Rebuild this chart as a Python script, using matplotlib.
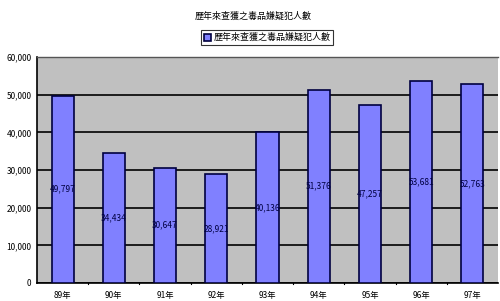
import matplotlib
matplotlib.use("Agg")
import matplotlib.pyplot as plt
from matplotlib.ticker import FuncFormatter, MultipleLocator

plt.rcParams['font.family'] = ['Noto Sans CJK TC', 'DejaVu Sans']

categories = ["89年", "90年", "91年", "92年", "93年", "94年", "95年", "96年", "97年"]
values = [49797, 34434, 30647, 28921, 40136, 51376, 47257, 53681, 52763]
series_name = "歷年來查獲之毒品嫌疑犯人數"
title = "歷年來查獲之毒品嫌疑犯人數"

fig = plt.figure(figsize=(5.0, 3.01), dpi=100)
ax = fig.add_axes([0.074, 0.06, 0.922, 0.75])
ax.set_facecolor("#C0C0C0")

x = list(range(len(categories)))
bars = ax.bar(x, values, width=0.43, color="#8080FF", edgecolor="#000040",
              linewidth=1.2, label=series_name, zorder=3)
for xi, v in zip(x, values):
    ax.text(xi, v / 2, f"{v:,}", ha="center", va="center", fontsize=6,
            color="#000040", zorder=4)

ax.set_xlim(-0.5, len(categories) - 0.5)
ax.set_ylim(0, 60000)
ax.yaxis.set_major_locator(MultipleLocator(10000))
ax.yaxis.set_major_formatter(FuncFormatter(lambda v, p: f"{int(v):,}"))
ax.grid(axis="y", color="black", linewidth=1.2, zorder=1)
ax.set_axisbelow(True)

ax.set_xticks(x)
ax.set_xticklabels(categories, fontsize=6)
ax.tick_params(axis="x", length=0, pad=6)
ax.tick_params(axis="y", labelsize=6, length=0, pad=4)
for xb in [i + 0.5 for i in x[:-1]]:
    ax.plot([xb, xb], [0, -400], color="black", lw=0.8, clip_on=False, zorder=5)

for s in ["top", "right"]:
    ax.spines[s].set_visible(False)
ax.spines["left"].set_color("black")
ax.spines["bottom"].set_color("black")
ax.spines["left"].set_linewidth(1.2)
ax.spines["bottom"].set_linewidth(1.2)
ax.plot([-0.5, len(categories) - 0.5], [60000, 60000], color="#555555", lw=1.0,
        clip_on=False, zorder=5)

fig.text(0.506, 0.945, title, ha="center", va="center", fontsize=6.5)
leg = fig.legend(handles=[bars], labels=[series_name], loc="center",
                 bbox_to_anchor=(0.534, 0.875), fontsize=6.5, frameon=True,
                 fancybox=False, edgecolor="black", handlelength=0.8,
                 handleheight=0.8, borderpad=0.3, handletextpad=0.3)
leg.get_frame().set_linewidth(0.8)

fig.savefig("out.png", dpi=100)
